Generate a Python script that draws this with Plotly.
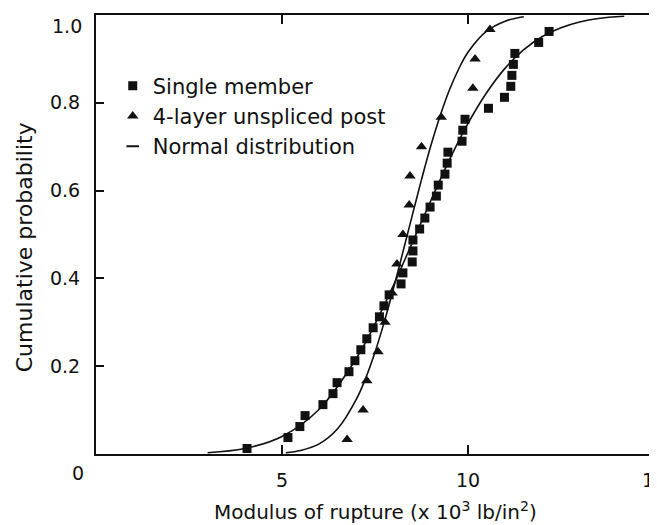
import plotly.graph_objects as go

# ---- data ----
single_x = [4.06, 5.16, 5.48, 5.62, 6.10, 6.37, 6.48, 6.80, 6.96, 7.12,
            7.28, 7.45, 7.62, 7.74, 7.88, 8.20, 8.25, 8.50, 8.52, 8.52,
            8.70, 8.84, 8.98, 9.15, 9.20, 9.38, 9.44, 9.46, 9.84, 9.86,
            9.92, 10.55, 10.98, 11.15, 11.18, 11.22, 11.26, 11.90, 12.18]
single_p = [0.0125, 0.0375, 0.0625, 0.0875, 0.1125, 0.1375, 0.1625, 0.1875, 0.2125, 0.2375,
            0.2625, 0.2875, 0.3125, 0.3375, 0.3625, 0.3875, 0.4125, 0.4375, 0.4625, 0.4875,
            0.5125, 0.5375, 0.5625, 0.5875, 0.6125, 0.6375, 0.6625, 0.6875, 0.7125, 0.7375,
            0.7625, 0.7875, 0.8125, 0.8375, 0.8625, 0.8875, 0.9125, 0.9375, 0.9625]

post_x = [6.75, 7.18, 7.28, 7.58, 7.77, 7.96, 8.09, 8.25, 8.42, 8.44,
          8.75, 9.28, 10.13, 10.19, 10.59]
post_p = [0.033, 0.100, 0.167, 0.233, 0.300, 0.367, 0.433, 0.500, 0.567, 0.633,
          0.700, 0.767, 0.833, 0.900, 0.967]

single_curve_x = [3.0, 4.0, 5.0, 6.0, 7.0, 7.5, 8.0, 8.5, 9.0, 9.5,
                  10.0, 10.5, 11.0, 11.5, 12.0, 12.5, 13.0, 13.5, 14.2]
single_curve_p = [0.003, 0.0125, 0.040, 0.102, 0.218, 0.296, 0.385, 0.481, 0.577, 0.670,
                  0.753, 0.823, 0.879, 0.921, 0.951, 0.971, 0.984, 0.992, 0.997]

post_curve_x = [5.1, 5.5, 6.0, 6.5, 7.0, 7.25, 7.5, 7.75, 8.0, 8.25, 8.5, 8.75,
                9.0, 9.25, 9.5, 9.75, 10.0, 10.5, 11.0, 11.5]
post_curve_p = [0.003, 0.008, 0.023, 0.058, 0.125, 0.173, 0.232, 0.301, 0.378, 0.460, 0.543, 0.625,
                0.702, 0.770, 0.829, 0.877, 0.915, 0.963, 0.986, 0.996]

x_tick_vals = [5, 10, 15]
x_tick_text = ["5", "10", "15"]
y_tick_vals = [0.2, 0.4, 0.6, 0.8]
y_tick_text = ["0.2", "0.4", "0.6", "0.8"]

FONT = "DejaVu Sans"
FS = 19
INK = "#111111"

fig = go.Figure()

fig.add_trace(go.Scatter(
    x=single_curve_x, y=single_curve_p, mode="lines",
    line=dict(color=INK, width=1.6, shape="spline", smoothing=1.0),
    showlegend=False, hoverinfo="skip"))
fig.add_trace(go.Scatter(
    x=post_curve_x, y=post_curve_p, mode="lines",
    line=dict(color=INK, width=1.6, shape="spline", smoothing=1.0),
    showlegend=False, hoverinfo="skip"))

fig.add_trace(go.Scatter(
    x=single_x, y=single_p, mode="markers", name="Single member",
    marker=dict(symbol="square", size=9, color=INK)))
fig.add_trace(go.Scatter(
    x=post_x, y=post_p, mode="markers", name="4-layer unspliced post",
    marker=dict(symbol="triangle-up", size=10, color=INK)))
fig.add_trace(go.Scatter(
    x=[None], y=[None], mode="markers", name="Normal distribution",
    marker=dict(symbol="line-ew", size=9, color=INK, line=dict(width=2, color=INK))))

# The page body has an 8px margin, so the figure is shrunk by 8px to fit the window.
fig.update_layout(
    width=649, height=517,
    margin=dict(l=88, r=3, t=7, b=71),
    paper_bgcolor="white", plot_bgcolor="white",
    font=dict(family=FONT, size=FS, color=INK),
    showlegend=True,
    legend=dict(x=0.03, y=0.885, xanchor="left", yanchor="top",
                bgcolor="rgba(0,0,0,0)", font=dict(family=FONT, size=21, color=INK),
                itemwidth=30, tracegroupgap=0),
    xaxis=dict(range=[0, 15], tickvals=x_tick_vals, ticktext=x_tick_text,
               ticks="inside", ticklen=9, tickwidth=2, tickcolor=INK,
               showline=True, linewidth=2, linecolor=INK, mirror="ticks",
               showgrid=False, zeroline=False, automargin=False,
               ticklabeloverflow="allow",
               ticklabelstandoff=8, tickfont=dict(family=FONT, size=FS, color=INK)),
    yaxis=dict(range=[0, 1], tickvals=y_tick_vals, ticktext=y_tick_text,
               ticks="inside", ticklen=8, tickwidth=2, tickcolor=INK,
               showline=True, linewidth=2, linecolor=INK, mirror=False,
               showgrid=False, zeroline=False, automargin=False,
               ticklabeloverflow="allow",
               ticklabelstandoff=10, tickfont=dict(family=FONT, size=FS, color=INK)),
    annotations=[
        dict(text="1.0", xref="paper", yref="paper", x=-0.022, y=0.975,
             xanchor="right", yanchor="middle", showarrow=False,
             font=dict(family=FONT, size=FS, color=INK)),
        dict(text="0", xref="paper", yref="paper", x=-0.032, y=-0.043,
             xanchor="center", yanchor="middle", showarrow=False,
             font=dict(family=FONT, size=FS, color=INK)),
        dict(text="Cumulative probability", xref="paper", yref="paper",
             x=-0.128, y=0.47, xanchor="center", yanchor="middle", textangle=-90,
             showarrow=False, font=dict(family=FONT, size=22, color=INK)),
        dict(text="Modulus of rupture (x 10<sup>3</sup> lb/in<sup>2</sup>)",
             xref="paper", yref="paper", x=0.5, y=-0.13,
             xanchor="center", yanchor="middle", showarrow=False,
             font=dict(family=FONT, size=20, color=INK)),
    ],
)

fig.write_html("out.html")
